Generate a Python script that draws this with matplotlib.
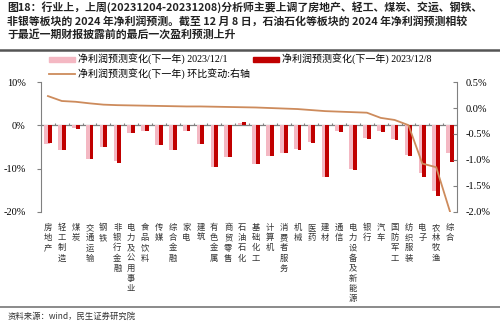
import numpy as np
import matplotlib
matplotlib.use("Agg")
from matplotlib import pyplot as plt
from matplotlib.lines import Line2D

plt.rcParams['font.family'] = ['Liberation Serif', 'Noto Sans CJK SC']
plt.rcParams['axes.unicode_minus'] = False

# 行业
industries = ['房地产', '轻工制造', '煤炭', '交通运输', '钢铁', '非银行金融', '电力及公用事业',
              '食品饮料', '传媒', '综合金融', '家电', '建筑', '有色金属', '商贸零售', '石油石化',
              '基础化工', '计算机', '消费者服务', '机械', '医药', '建材', '通信',
              '电力设备及新能源', '银行', '汽车', '国防军工', '纺织服装', '电子', '农林牧渔', '综合']

# 净利润预测变化(下一年) 2023/12/1, %
chg_1201 = [-4.2, -5.7, -0.6, -7.7, -5.1, -8.3, -1.7, -1.2, -4.5, -5.6, -1.3, -4.3, -9.6, -7.3, 0.6,
            -9.0, -7.0, -6.4, -5.5, -3.9, -11.9, -1.3, -10.2, -2.9, -1.3, -3.2, -6.9, -11.0, -15.1, -6.4]
# 净利润预测变化(下一年) 2023/12/8, %
chg_1208 = [-4.1, -5.6, -0.9, -7.7, -5.1, -8.6, -1.7, -1.2, -4.5, -5.6, -1.3, -4.4, -9.7, -7.4, 0.8,
            -9.0, -7.0, -6.4, -5.6, -4.1, -11.9, -1.5, -10.3, -3.1, -1.5, -3.4, -7.2, -12.0, -16.4, -8.4]
# 环比变动（右轴）, %
mom = [0.23, 0.135, 0.12, 0.09, 0.065, 0.055, 0.05, 0.045, 0.04, 0.035, 0.03, 0.03, 0.025, 0.02, 0.015,
       0.01, 0.0, -0.01, -0.02, -0.04, -0.06, -0.07, -0.08, -0.09, -0.19, -0.23, -0.33, -1.07, -1.14, -2.0]

pink = '#F4B8C3'
red = '#C00000'
brown = '#CD8B5C'
grey = '#808080'

fig = plt.figure(figsize=(5, 3.23), dpi=100)
ax = fig.add_axes([0.082, 0.344, 0.832, 0.402])
ax2 = ax.twinx()

x = np.arange(len(industries))
ax.bar(x - 0.05, chg_1201, width=0.44, color=pink, zorder=2)
ax.bar(x + 0.14, chg_1208, width=0.28, color=red, zorder=3)
ax2.plot(x, mom, color=brown, lw=1.3, zorder=4)

ax.set_xlim(-0.5, len(industries) - 0.5)
ax.set_ylim(-20, 10)
ax.set_yticks([10, 0, -10, -20])
ax.set_yticklabels(['10%', '0%', '-10%', '-20%'], fontsize=7.5)
ax2.set_ylim(-2.0, 0.5)
ax2.set_yticks([0.5, 0.0, -0.5, -1.0, -1.5, -2.0])
ax2.set_yticklabels(['0.5%', '0.0%', '-0.5%', '-1.0%', '-1.5%', '-2.0%'], fontsize=7.5)

# zero line with small boundary ticks
ax.axhline(0, color=grey, lw=0.9, zorder=1)
ax.vlines(np.arange(len(industries) + 1) - 0.5, 0, 0.5, color=grey, lw=0.8, zorder=1)

ax.set_xticks(x)
ax.set_xticklabels(['\n'.join(s) for s in industries], fontsize=6, linespacing=1.17,
                   va='top', family='Noto Sans CJK SC', color='#333333')
ax.tick_params(axis='x', length=0, pad=8)

for a in (ax, ax2):
    for side in ('top', 'bottom'):
        a.spines[side].set_visible(False)
    a.spines['left'].set_color(grey)
    a.spines['right'].set_color(grey)
ax2.spines['left'].set_visible(False)
ax.spines['right'].set_visible(False)
ax.tick_params(axis='y', direction='out', length=3, color=grey, pad=8)
ax2.tick_params(axis='y', direction='in', length=3, color=grey, pad=6)

handles = [plt.Rectangle((0, 0), 1, 1, color=pink),
           Line2D([], [], color=brown, lw=1.3),
           plt.Rectangle((0, 0), 1, 1, color=red)]
labels = ['净利润预测变化(下一年) 2023/12/1',
          '净利润预测变化(下一年) 环比变动:右轴',
          '净利润预测变化(下一年) 2023/12/8']
fig.legend(handles, labels, loc='upper left', bbox_to_anchor=(0.09, 0.845), ncol=2,
           frameon=False, fontsize=7.2, handlelength=2.6, handleheight=0.45,
           handletextpad=0.3, columnspacing=0.3, labelspacing=0.35, borderaxespad=0)

title = ('图18：行业上，上周(20231204-20231208)分析师主要上调了房地产、轻工、煤炭、交运、钢铁、\n'
         '非银等板块的 2024 年净利润预测。截至 12 月 8 日，石油石化等板块的 2024 年净利润预测相较\n'
         '于最近一期财报披露前的最后一次盈利预测上升')
fig.text(0.014, 0.995, title, fontsize=7.85, fontweight='bold', color='#222222',
         va='top', ha='left', family='Noto Sans CJK SC', linespacing=1.25)
fig.add_artist(Line2D([0, 1], [0.845, 0.845], color='#555555', lw=1.8))
fig.add_artist(Line2D([0, 1], [0.05, 0.05], color='#777777', lw=1.2))
fig.text(0.016, 0.022, '资料来源：wind，民生证券研究院', fontsize=6, color='#333333',
         va='center', ha='left', family='Noto Sans CJK SC')

plt.savefig('out.png', dpi=100)
